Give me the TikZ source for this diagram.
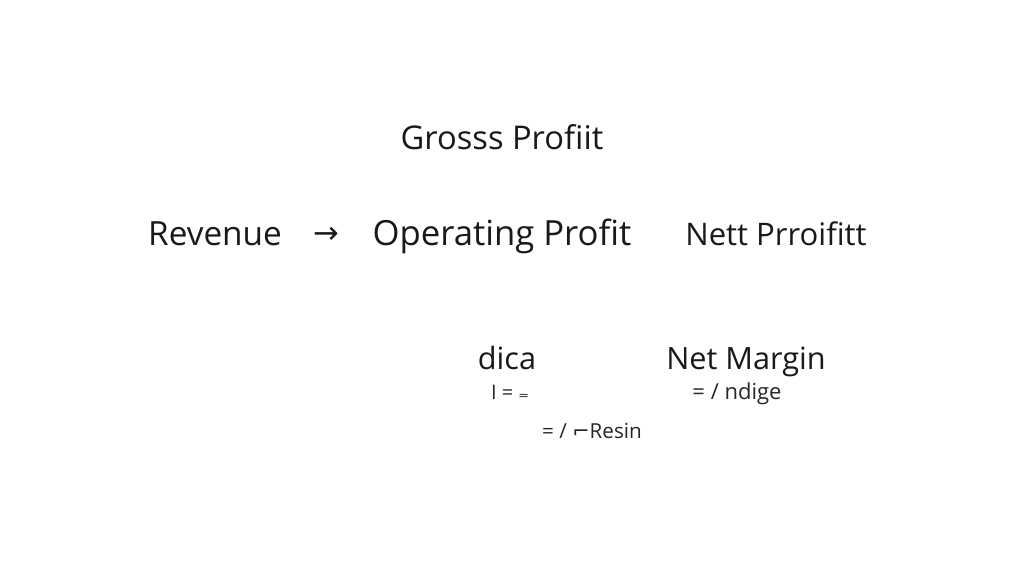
\documentclass[tikz,border=0pt]{standalone}
\usepackage{fontspec}
\setmainfont{Open Sans}
\newfontfamily\symfont{DejaVu Sans}
\begin{document}
\begin{tikzpicture}[x=0.75pt,y=-0.75pt,
  big/.style={inner sep=0pt,anchor=base,text=black!90},
  small/.style={inner sep=0pt,anchor=base,text=black!85}]
\useasboundingbox[fill=white] (0,0) rectangle (1024,585);
\node[big,font=\fontsize{24.5}{28}\selectfont] (gross) at (502,149) {Grosss Profiit};
\node[big,font=\fontsize{25}{28}\selectfont] (rev) at (215,245) {Revenue};
\node[big,font=\fontsize{23}{24}\selectfont\symfont] (arr) at (326,243) {→};
\node[big,font=\fontsize{26}{28}\selectfont] (op) at (502,245) {Operating Profit};
\node[big,font=\fontsize{23.3}{28}\selectfont] (net) at (776,245) {Nett Prroifitt};
\node[big,font=\fontsize{23}{27}\selectfont] (dica) at (507,369) {dica};
\node[big,font=\fontsize{23}{27}\selectfont] (nm) at (746,369) {Net Margin};
\node[small,font=\fontsize{15}{18}\selectfont] (f1) at (510,399) {I = {\symfont ₌}};
\node[small,font=\fontsize{16.5}{20}\selectfont] (f2) at (737,399) {= / ndige};
\node[small,font=\fontsize{15.5}{19}\selectfont] (f3) at (592,438) {= / {\symfont ⌐}Resin};
\end{tikzpicture}
\end{document}
